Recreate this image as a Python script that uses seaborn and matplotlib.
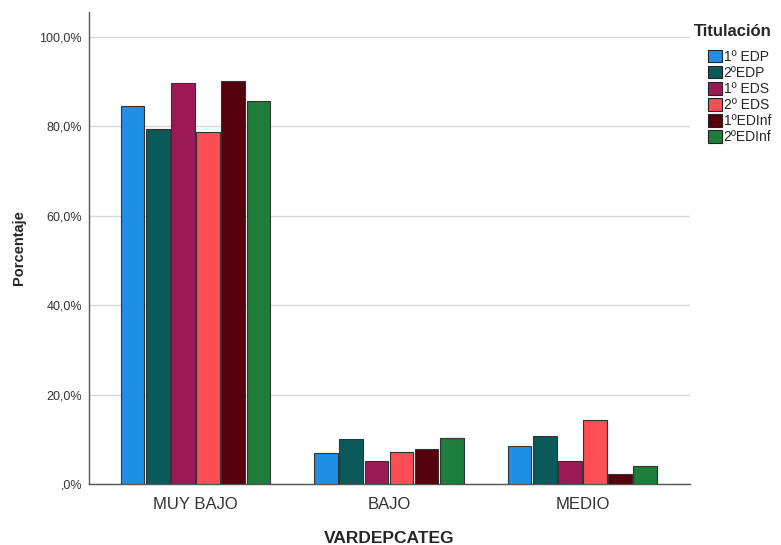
import numpy as np
import pandas as pd
import matplotlib.pyplot as plt
import seaborn as sns

# data
categorias = ["MUY BAJO", "BAJO", "MEDIO"]
titulaciones = ["1º EDP", "2ºEDP", "1º EDS", "2º EDS", "1ºEDInf", "2ºEDInf"]
edp1 = [84.6, 6.9, 8.5]
edp2 = [79.4, 10.1, 10.7]
eds1 = [89.7, 5.1, 5.1]
eds2 = [78.7, 7.2, 14.3]
edinf1 = [90.2, 7.8, 2.2]
edinf2 = [85.7, 10.3, 4.0]
colores = ["#1f8fe6", "#0b5a5a", "#9b1a55", "#fd4d55", "#55000c", "#1e7d3a"]

series = [edp1, edp2, eds1, eds2, edinf1, edinf2]
rows = []
for tit, vals in zip(titulaciones, series):
    for cat, v in zip(categorias, vals):
        rows.append({"VARDEPCATEG": cat, "Titulación": tit, "Porcentaje": v})
df = pd.DataFrame(rows)

sns.set_style("white")
plt.rcParams["font.family"] = ["Liberation Sans", "DejaVu Sans"]

fig = plt.figure(figsize=(7.81, 5.45), dpi=100)
ax = fig.add_axes([0.1140, 0.1119, 0.7695, 0.8661])

sns.barplot(data=df, x="VARDEPCATEG", y="Porcentaje", hue="Titulación",
            order=categorias, hue_order=titulaciones, palette=colores,
            width=0.78, gap=0.06, edgecolor="#333333", linewidth=0.8,
            saturation=1, errorbar=None, ax=ax, zorder=3)

ax.set_xlim(-0.55, 2.556)
ax.set_ylim(0, 105.6)
ax.set_yticks([0, 20, 40, 60, 80, 100])
ax.set_yticklabels([",0%", "20,0%", "40,0%", "60,0%", "80,0%", "100,0%"],
                   fontsize=9, color="#333333")
ax.tick_params(axis="x", labelsize=12, colors="#333333", length=0, pad=9)
ax.tick_params(axis="y", length=0, pad=5)
ax.yaxis.grid(True, color="#d9d9d9", linewidth=1, zorder=0)
ax.set_axisbelow(True)

for s in ["top", "right"]:
    ax.spines[s].set_visible(False)
for s in ["left", "bottom"]:
    ax.spines[s].set_color("#555555")
    ax.spines[s].set_linewidth(1)

ax.set_ylabel("Porcentaje", fontsize=10.5, fontweight="bold", labelpad=10,
              family=["Liberation Sans Narrow", "Liberation Sans", "DejaVu Sans"])
ax.set_xlabel("VARDEPCATEG", fontsize=12.5, fontweight="bold", labelpad=14)

leg = ax.legend(title="Titulación", loc="upper left", bbox_to_anchor=(1.006, 0.975),
                frameon=False, fontsize=10, title_fontsize=12,
                handlelength=1.0, handleheight=1.0, handletextpad=0.15,
                labelspacing=0.15, borderaxespad=0.0, borderpad=0.0)
leg.get_title().set_fontweight("bold")
leg._legend_box.align = "right"
leg._legend_box.sep = 8
for h in leg.legend_handles:
    h.set_edgecolor("#222222")
    h.set_linewidth(0.8)

fig.savefig("out.png", dpi=100)
